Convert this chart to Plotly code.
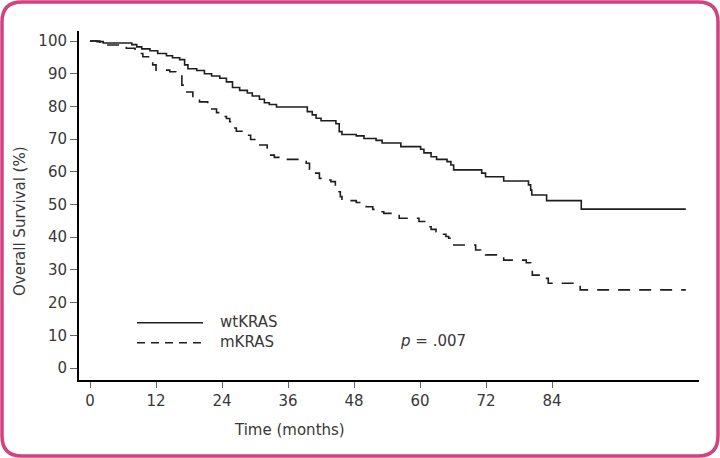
import plotly.graph_objects as go

# ---- data ----
wt_months = [0, 1.3, 2.4, 7.6, 8.5, 9.4, 10.9, 12.3, 13.9, 15.0, 16.3, 17.2, 17.8, 19.4, 20.8,
             22.1, 23.6, 24.8, 25.9, 27.2, 28.6, 29.5, 30.8, 31.7, 32.6, 33.9, 39.5, 40.4, 41.1,
             42.0, 44.7, 45.3, 45.8, 48.4, 49.8, 52.0, 53.1, 56.5, 60.1, 60.7, 62.0, 63.0, 64.9,
             65.6, 66.1, 71.2, 71.9, 75.2, 79.7, 80.1, 80.3, 83.0, 89.3, 108.3]
wt_surv = [100, 99.8, 99.4, 98.9, 98.2, 97.6, 97.0, 96.2, 95.5, 94.9, 94.3, 92.7, 91.5, 91.0, 90.0,
           89.3, 88.6, 87.5, 85.8, 84.9, 84.1, 83.2, 82.2, 81.1, 80.6, 79.8, 78.4, 77.4, 76.4,
           75.6, 74.7, 72.3, 71.4, 71.0, 70.2, 69.6, 68.8, 67.7, 66.9, 65.8, 64.6, 63.8, 63.1,
           62.1, 60.6, 59.6, 58.5, 57.2, 56.0, 54.4, 52.9, 51.2, 48.6, 48.6]

m_months = [0, 1.8, 6.6, 8.2, 8.7, 9.6, 10.9, 11.4, 12.0, 14.5, 15.6, 16.7, 17.4, 18.7, 19.9,
            21.4, 23.0, 23.6, 24.8, 25.4, 25.7, 26.6, 28.4, 29.2, 30.6, 32.2, 33.5, 34.8, 39.3,
            39.9, 40.8, 41.7, 42.9, 43.8, 44.6, 45.1, 45.5, 45.8, 48.4, 49.3, 50.2, 51.4, 52.5,
            53.4, 56.2, 59.8, 61.1, 62.0, 62.9, 63.8, 64.7, 65.2, 65.9, 70.1, 71.0, 71.9, 74.8,
            75.2, 79.3, 80.1, 80.4, 83.0, 83.3, 88.4, 89.1, 108.3]
m_surv = [100, 98.8, 97.8, 97.2, 96.2, 95.2, 94.0, 92.7, 91.1, 90.6, 89.3, 86.5, 84.4, 82.6, 81.4,
          79.2, 78.1, 76.9, 76.3, 75.3, 73.4, 72.4, 71.2, 69.9, 68.2, 65.1, 64.4, 63.8, 62.6,
          60.8, 59.6, 58.0, 57.5, 57.0, 55.4, 53.9, 52.4, 51.2, 50.6, 50.2, 49.3, 48.5, 47.8,
          47.3, 45.8, 44.8, 43.2, 42.4, 41.7, 40.9, 40.2, 39.7, 37.6, 36.1, 35.1, 34.6, 34.0,
          33.0, 32.2, 31.0, 28.4, 27.4, 25.9, 24.9, 23.9, 23.9]

x_ticks = [0, 12, 24, 36, 48, 60, 72, 84]
y_ticks = [0, 10, 20, 30, 40, 50, 60, 70, 80, 90, 100]
series_names = ["wtKRAS", "mKRAS"]
p_text = "<i>p</i> = .007"

# ---- layout geometry (pixels) ----
W, H = 720, 458
L, R, T, B = 79, 699, 31, 380


def px(xp):
    return (xp - L) / (R - L)


def py(yp):
    return (B - yp) / (B - T)


FONT = "DejaVu Sans, sans-serif"
FS = 15
TXT = "#383838"
PINK = "#d4417f"
LINE = "#1e1e1e"

fig = go.Figure()
fig.add_trace(go.Scatter(x=wt_months, y=wt_surv, mode="lines", line_shape="hv",
                         line=dict(color=LINE, width=1.6), name=series_names[0]))
fig.add_trace(go.Scatter(x=m_months, y=m_surv, mode="lines", line_shape="hv",
                         line=dict(color=LINE, width=1.6, dash="12px,9px"), name=series_names[1]))

# rounded pink frame
x0, x1, y0, y1, r = 2, 718, 2, 456, 20
path = (f"M {px(x0 + r)},{py(y0)} L {px(x1 - r)},{py(y0)} "
        f"Q {px(x1)},{py(y0)} {px(x1)},{py(y0 + r)} L {px(x1)},{py(y1 - r)} "
        f"Q {px(x1)},{py(y1)} {px(x1 - r)},{py(y1)} L {px(x0 + r)},{py(y1)} "
        f"Q {px(x0)},{py(y1)} {px(x0)},{py(y1 - r)} L {px(x0)},{py(y0 + r)} "
        f"Q {px(x0)},{py(y0)} {px(x0 + r)},{py(y0)} Z")
shapes = [dict(type="path", xref="paper", yref="paper", path=path,
               line=dict(color=PINK, width=3.5), layer="above")]
# legend samples
shapes.append(dict(type="line", xref="paper", yref="paper", x0=px(137), x1=px(203),
                   y0=py(322.7), y1=py(322.7), line=dict(color=LINE, width=1.6)))
shapes.append(dict(type="line", xref="paper", yref="paper", x0=px(137), x1=px(203),
                   y0=py(342.7), y1=py(342.7), line=dict(color=LINE, width=1.6, dash="8px,6px")))

tf = dict(size=FS, color=TXT, family=FONT)
annotations = [
    dict(text=series_names[0], x=px(218), y=py(322), xref="paper", yref="paper",
         xanchor="left", yanchor="middle", showarrow=False, font=tf),
    dict(text=series_names[1], x=px(218), y=py(342), xref="paper", yref="paper",
         xanchor="left", yanchor="middle", showarrow=False, font=tf),
    dict(text=p_text, x=px(398), y=py(341), xref="paper", yref="paper",
         xanchor="left", yanchor="middle", showarrow=False, font=tf),
    dict(text="Time (months)", x=px(289), y=py(430), xref="paper", yref="paper",
         xanchor="center", yanchor="middle", showarrow=False, font=tf),
    dict(text="Overall Survival (%)", x=px(20), y=py(221), xref="paper", yref="paper",
         xanchor="center", yanchor="middle", textangle=-90, showarrow=False, font=tf),
]

fig.update_layout(
    width=W, height=H,
    margin=dict(l=L, r=W - R, t=T, b=H - B, pad=0),
    paper_bgcolor="white", plot_bgcolor="white",
    showlegend=False,
    font=dict(family=FONT, size=FS, color=TXT),
    shapes=shapes, annotations=annotations,
)
fig.update_xaxes(range=[-2.0, 110.7], tickvals=x_ticks, ticktext=[str(v) for v in x_ticks],
                 showgrid=False, zeroline=False, showline=True, linecolor="black", linewidth=2,
                 ticks="outside", ticklen=6, tickwidth=1, tickcolor="#666666",
                 tickfont=tf, fixedrange=True)
fig.update_yaxes(range=[-3.67, 103.06], tickvals=y_ticks, ticktext=[str(v) for v in y_ticks],
                 showgrid=False, zeroline=False, showline=True, linecolor="black", linewidth=2,
                 ticks="outside", ticklen=7, tickwidth=1, tickcolor="#666666",
                 tickfont=tf, fixedrange=True)

fig.write_html("out.html", config={"displayModeBar": False},
               post_script="document.body.style.margin='0';document.body.style.overflow='hidden';")
